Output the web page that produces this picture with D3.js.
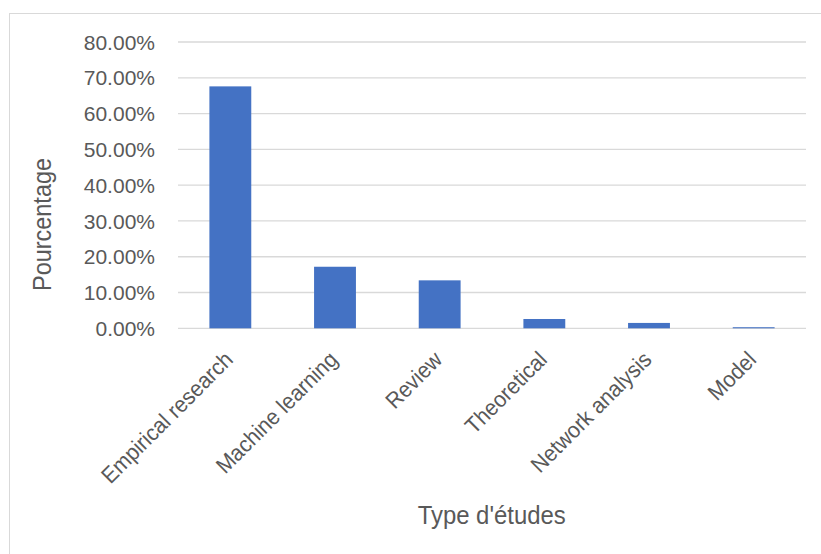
<!DOCTYPE html>
<html><head><meta charset="utf-8">
<script src="https://cdn.jsdelivr.net/npm/d3@7"></script>
<style>body{margin:0;background:#fff}svg{display:block}</style>
</head><body>
<script>
const categories = ["Empirical research","Machine learning","Review","Theoretical","Network analysis","Model"];
const values = [0.676, 0.172, 0.134, 0.026, 0.015, 0.003];
const yTicks = [0,0.1,0.2,0.3,0.4,0.5,0.6,0.7,0.8];
const yTitle = "Pourcentage";
const xTitle = "Type d'études";

const W = 821, H = 554;
const FONT = "'Liberation Sans', Arial, sans-serif";
const TXT = "#595959";
const svg = d3.select("body").append("svg").attr("width", W).attr("height", H);
svg.append("rect").attr("x",9.5).attr("y",13.5).attr("width",W).attr("height",H)
  .attr("fill","#fff").attr("stroke","#d9d9d9").attr("stroke-width",1);

const x = d3.scaleBand().domain(categories).range([178, 806]).paddingInner(0.6).paddingOuter(0.3);
const y = d3.scaleLinear().domain([0, 0.8]).range([328.3, 42]);

// gridlines
svg.append("g").selectAll("line").data(yTicks).join("line")
  .attr("x1",178).attr("x2",806).attr("y1",d=>y(d)).attr("y2",d=>y(d))
  .attr("stroke","#d9d9d9").attr("stroke-width",1.3);

// y tick labels
const fmt = d => (d*100).toFixed(2) + "%";
svg.append("g").selectAll("text").data(yTicks).join("text")
  .attr("transform", d => `translate(155,${y(d)})`)
  .attr("dy","0.36em").attr("text-anchor","end")
  .attr("font-family",FONT).attr("font-size",21).attr("fill",TXT)
  .text(fmt);

// bars
svg.append("g").selectAll("rect").data(values).join("rect")
  .attr("x",(d,i)=>x(categories[i])).attr("width",x.bandwidth())
  .attr("y",d=>y(d)).attr("height",d=>y(0)-y(d))
  .attr("fill","#4472C4");

// x category labels
svg.append("g").selectAll("text").data(categories).join("text")
  .attr("transform", d => `translate(${x(d)+x.bandwidth()/2+4},${361}) rotate(-45) scale(0.94,1)`)
  .attr("text-anchor","end")
  .attr("font-family",FONT).attr("font-size",22.5).attr("fill",TXT)
  .text(d=>d);

// axis titles
svg.append("text")
  .attr("transform", `translate(51,224.5) rotate(-90) scale(0.92,1)`)
  .attr("text-anchor","middle")
  .attr("font-family",FONT).attr("font-size",25.5).attr("fill",TXT)
  .text(yTitle);
svg.append("text")
  .attr("transform", `translate(491.7,524) scale(0.92,1)`)
  .attr("text-anchor","middle")
  .attr("font-family",FONT).attr("font-size",26).attr("fill",TXT)
  .text(xTitle);
</script>
</body></html>
